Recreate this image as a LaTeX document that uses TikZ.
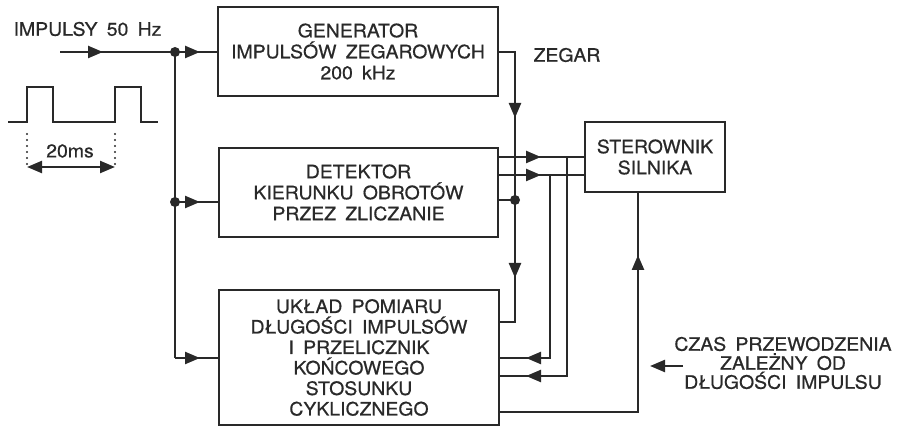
\documentclass[tikz,border=0pt]{standalone}
\usepackage{fontspec}
\setmainfont{TeX Gyre Heros}[FakeStretch=1.05,FakeBold=0.6]
\usetikzlibrary{arrows.meta,decorations.markings}
\definecolor{ink}{gray}{0.16}
\newcommand\myfontA{\fontsize{18.5}{21}\selectfont\spaceskip=0.5em\relax}
\newcommand\myfontB{\fontsize{18.5}{20.5}\selectfont\spaceskip=0.5em\relax}
\newcommand\myfontC{\fontsize{18.5}{19}\selectfont\spaceskip=0.5em\relax}
\begin{document}
\begin{tikzpicture}[x=1pt,y=-1pt,
  every node/.style={inner sep=0pt, outer sep=0pt, text=ink},
  txt/.style={font=\myfontA, align=center},
  box/.style={txt, draw=ink, line width=2.4pt},
  wire/.style={draw=ink, line width=2.4pt},
  tipA/.style={-{Triangle[length=15pt,width=12pt]}},
  midarrow/.style={postaction={decorate,decoration={markings,
      mark=at position #1 with {\arrow{Triangle[length=15pt,width=12pt]}}}}},
  dot/.style={circle, fill=ink, minimum size=10pt}
]
\useasboundingbox (0,0) rectangle (898,427);

% boxes
\node[box, minimum width=280pt, minimum height=89pt] (gen) at (358,51.5)
  {GENERATOR\\IMPULSÓW ZEGAROWYCH\\200 kHz};
\node[box, minimum width=279pt, minimum height=89pt] (det) at (358.5,192.5)
  {DETEKTOR\\KIERUNKU OBROTÓW\\PRZEZ ZLICZANIE};
\node[box, minimum width=280pt, minimum height=135pt, font=\myfontB] (uk) at (359,357.5)
  {UKŁAD POMIARU\\DŁUGOŚCI IMPULSÓW\\I PRZELICZNIK\\KOŃCOWEGO\\STOSUNKU\\CYKLICZNEGO};
\node[box, minimum width=140pt, minimum height=70pt] (ster) at (655,157)
  {STEROWNIK\\SILNIKA};

% labels
\node[txt] (lin) at (87.5,29) {IMPULSY 50 Hz};
\node[txt] (lzeg) at (567,55) {ZEGAR};
\node[txt, font=\myfontC] (czas) at (783,363)
  {CZAS PRZEWODZENIA\\ZALEŻNY OD\\DŁUGOŚCI IMPULSU};
\node[txt] (l20) at (70,151) {20ms};

% coordinates
\coordinate (in) at (60,52);
\coordinate (j1) at (175,52);
\coordinate (j2) at (175,202);
\coordinate (j3) at (175,358);
\coordinate (ck1) at (515,52);
\coordinate (ck2) at (515,322);
\coordinate (ck3) at (515,200);
\coordinate (v1) at (567,157);
\coordinate (v1b) at (567,376);
\coordinate (v2) at (550,175);
\coordinate (v2b) at (550,358);
\coordinate (o) at (638,412);
\coordinate (ca1) at (683,366);
\coordinate (ca2) at (650,366);

% input distribution
\draw[wire, midarrow=43pt] (in) -- (j1);
\draw[wire] (j1) -- (j3);
\draw[wire, midarrow=25pt] (j1) -- (gen.west |- j1);
\draw[wire, midarrow=25pt] (j2) -- (det.west |- j2);
\draw[wire, midarrow=25pt] (j3) -- (uk.west |- j3);
\node[dot] (d1) at (j1) {};
\node[dot] (d2) at (j2) {};

% clock
\draw[wire, postaction={decorate,decoration={markings,
    mark=at position 83pt with {\arrow{Triangle[length=15pt,width=12pt]}},
    mark=at position 243pt with {\arrow{Triangle[length=15pt,width=12pt]}}}}]
  (gen.east |- ck1) -- (ck1) -- (ck2) -- (uk.east |- ck2);
\draw[wire] (det.east |- ck3) -- (ck3);
\node[dot] (d3) at (ck3) {};

% detector outputs
\draw[wire, midarrow=43pt] (det.east |- v1) -- (ster.west |- v1);
\draw[wire, midarrow=43pt] (det.east |- v2) -- (ster.west |- v2);
\draw[wire, midarrow=-27pt] (v1) -- (v1b) -- (uk.east |- v1b);
\draw[wire, midarrow=-27pt] (v2) -- (v2b) -- (uk.east |- v2b);

% output to motor controller
\draw[wire, midarrow=-63pt] (uk.east |- o) -- (o) -- (o |- ster.south);

% czas arrow
\draw[wire, tipA] (ca1) -- (ca2);

% pulse waveform
\draw[wire, line join=miter] (8,122) -- (27,122) -- (27,87) -- (53,87) -- (53,122)
  -- (115,122) -- (115,87) -- (141,87) -- (141,122) -- (158,122);
\draw[draw=ink, line width=2.4pt, line cap=round, dash pattern=on 0pt off 6pt] (27,134) -- (27,166);
\draw[draw=ink, line width=2.4pt, line cap=round, dash pattern=on 0pt off 6pt] (115,134) -- (115,166);
\draw[wire, {Triangle[length=15pt,width=12pt]}-{Triangle[length=15pt,width=12pt]}] (27,167) -- (115,167);
\end{tikzpicture}
\end{document}
